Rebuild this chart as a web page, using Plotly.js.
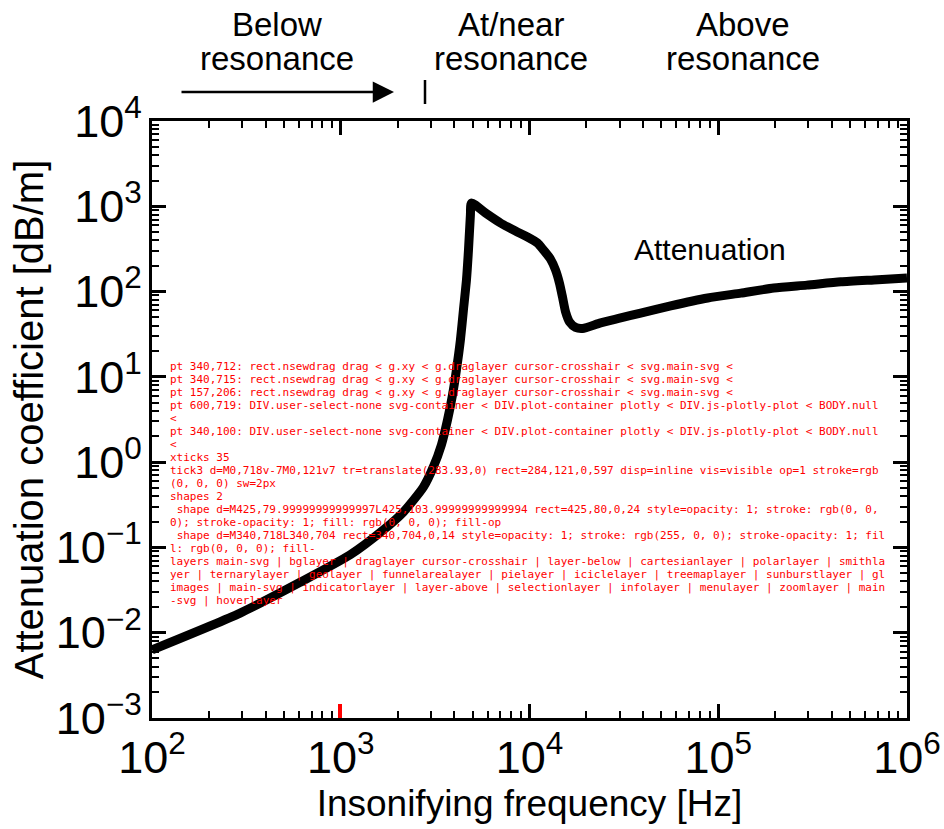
<!DOCTYPE html>
<html>
<head>
<meta charset="utf-8">
<script src="https://cdn.plot.ly/plotly-3.0.1.min.js"></script>
<style>html,body{margin:0;padding:0;background:#fff;}#chart{width:944px;height:829px;}#dbg{position:absolute;left:170px;top:360px;width:720px;font:11px monospace;color:red;white-space:pre-wrap;word-break:break-all;}</style>
</head>
<body>
<div id="chart"></div>
<div id="dbg"></div>
<script>
window.onerror = function(m){ document.getElementById('dbg').textContent += 'ERR ' + m + '\n'; };
const frequency = [100, 293, 609, 1122, 1680, 2146, 2740, 3095, 3413, 3675, 3906, 4100, 4305, 4467,
  4635, 4750, 4863, 4925,
  5850, 7020, 8430, 9750, 11020, 11860, 12910, 13740, 14410, 14960, 15520, 16300, 17540, 19100,
  23830, 30400, 38820, 55980, 87960, 131600, 196900, 294500, 446300, 668700, 1000000];
const attenuation = [0.0063, 0.017, 0.039, 0.082, 0.16, 0.26, 0.51, 0.88, 1.59, 3.1, 6.1, 12, 27, 61,
  137, 307, 790, 1094,
  834, 637, 513, 436, 371, 307, 241, 179, 126, 86, 58, 44, 38, 37,
  43, 49, 56, 68, 84, 96, 110, 119, 130, 137, 144];
const regionLabels = ["Below<br>resonance", "At/near<br>resonance", "Above<br>resonance"];
const curveLabel = "Attenuation";
const XRANGE = [2, 6], YRANGE = [-3, 4];
const F = "Liberation Sans, Arial, sans-serif";
function axisCommon(){ return {
  type: "log", showline: true, linewidth: 3, linecolor: "#000", mirror: "ticks",
  ticks: "inside", ticklen: 14, tickwidth: 2.5, tickcolor: "#000",
  dtick: 1, exponentformat: "power", showgrid: false, zeroline: false,
  minor: {ticks: "inside", dtick: "D1", ticklen: 7, tickwidth: 2, tickcolor: "#000"},
  tickfont: {family: F, size: 36, color: "#000"}
};}
const trace = {x: frequency, y: attenuation, type: "scatter", mode: "lines",
  line: {color: "#000", width: 9, shape: "spline", smoothing: 0.6}, hoverinfo: "skip"};
const L = 152, T = 121, W = 755, H = 597;
function px(x){ return (x - L) / W; }
function py(y){ return (T + H - y) / H; }
const lblFont = {family: F, size: 33, color: "#000"};
const centers = [277, 511, 743];
const annotations = [];
regionLabels.forEach(function(lbl, i){
  lbl.split("<br>").forEach(function(line, j){
    annotations.push({xref: "paper", yref: "paper", x: px(centers[i]), y: py(j === 0 ? 25 : 59),
      xanchor: "center", yanchor: "middle", text: line, showarrow: false, font: lblFont});
  });
});
annotations.push({xref: "paper", yref: "paper", x: px(710), y: py(249), xanchor: "center", yanchor: "middle",
  text: curveLabel, showarrow: false, font: {family: F, size: 30, color: "#000"}});
annotations.push({xref: "paper", yref: "paper", x: px(394), y: py(92), ax: 180 - 394, ay: 0, text: "",
  showarrow: true, arrowhead: 2, arrowsize: 1.7, arrowwidth: 2.5, arrowcolor: "#000"});
const shapes = [
  {type: "line", xref: "paper", yref: "paper", x0: px(425), x1: px(425), y0: py(80), y1: py(104), line: {color: "#000", width: 2.5}},
  {type: "line", xref: "paper", yref: "paper", x0: px(340), x1: px(340), y0: 0, y1: 14/H, line: {color: "#f00", width: 4}}
];
const layout = {
  width: 944, height: 829, margin: {l: L, r: 944 - L - W, t: T, b: 829 - T - H},
  showlegend: false, font: {family: F, color: "#000"},
  xaxis: Object.assign(axisCommon(), {range: XRANGE,
    title: {text: "Insonifying frequency [Hz]", font: {family: F, size: 37, color: "#000"}, standoff: 4}}),
  yaxis: Object.assign(axisCommon(), {range: YRANGE,
    labelalias: {"1": "10<sup>0</sup>", "10": "10<sup>1</sup>"},
    title: {text: "Attenuation coefficient [dB/m]", font: {family: F, size: 40, color: "#000"}, standoff: 0}}),
  annotations: annotations, shapes: shapes
};
Plotly.newPlot("chart", [trace], layout, {displayModeBar: false}).then(function(gd){
  const d = document.getElementById('dbg');
  function desc(e){ if(!e) return 'null'; let s=''; let n=e; for(let i=0;i<4&&n;i++){ s += n.tagName + '.' + (n.getAttribute && n.getAttribute('class')) + ' < '; n=n.parentNode;} return s; }
  [[340,712],[340,715],[152+5,206],[600,719],[340,100]].forEach(function(p){
    d.textContent += 'pt ' + p + ': ' + desc(document.elementFromPoint(p[0], p[1])) + '\n';
  });
  const ticks = gd.querySelectorAll('path.xtick');
  d.textContent += 'xticks ' + ticks.length + '\n';
  if (ticks[3]) { const t = ticks[3]; const cs = getComputedStyle(t); const r = t.getBoundingClientRect();
    d.textContent += 'tick3 d=' + t.getAttribute('d') + ' tr=' + t.getAttribute('transform') + ' rect=' + [r.x,r.y,r.width,r.height].map(Math.round) + ' disp=' + cs.display + ' vis=' + cs.visibility + ' op=' + cs.opacity + ' stroke=' + cs.stroke + ' sw=' + cs.strokeWidth + '\n'; }
  const sh = gd.querySelectorAll('.shapelayer path');
  d.textContent += 'shapes ' + sh.length + '\n';
  sh.forEach(function(s){ const r = s.getBoundingClientRect(); d.textContent += ' shape d=' + s.getAttribute('d') + ' rect=' + [r.x,r.y,r.width,r.height].map(Math.round) + ' style=' + (s.getAttribute('style')||'').slice(0,80) + '\n'; });
  const layers = []; gd.querySelectorAll('svg.main-svg > g, svg.main-svg').forEach(function(g){ layers.push(g.getAttribute('class')); });
  d.textContent += 'layers ' + layers.join(' | ') + '\n';
}).catch(function(e){ document.getElementById('dbg').textContent += 'CATCH ' + e + '\n'; });
</script>
</body>
</html>
